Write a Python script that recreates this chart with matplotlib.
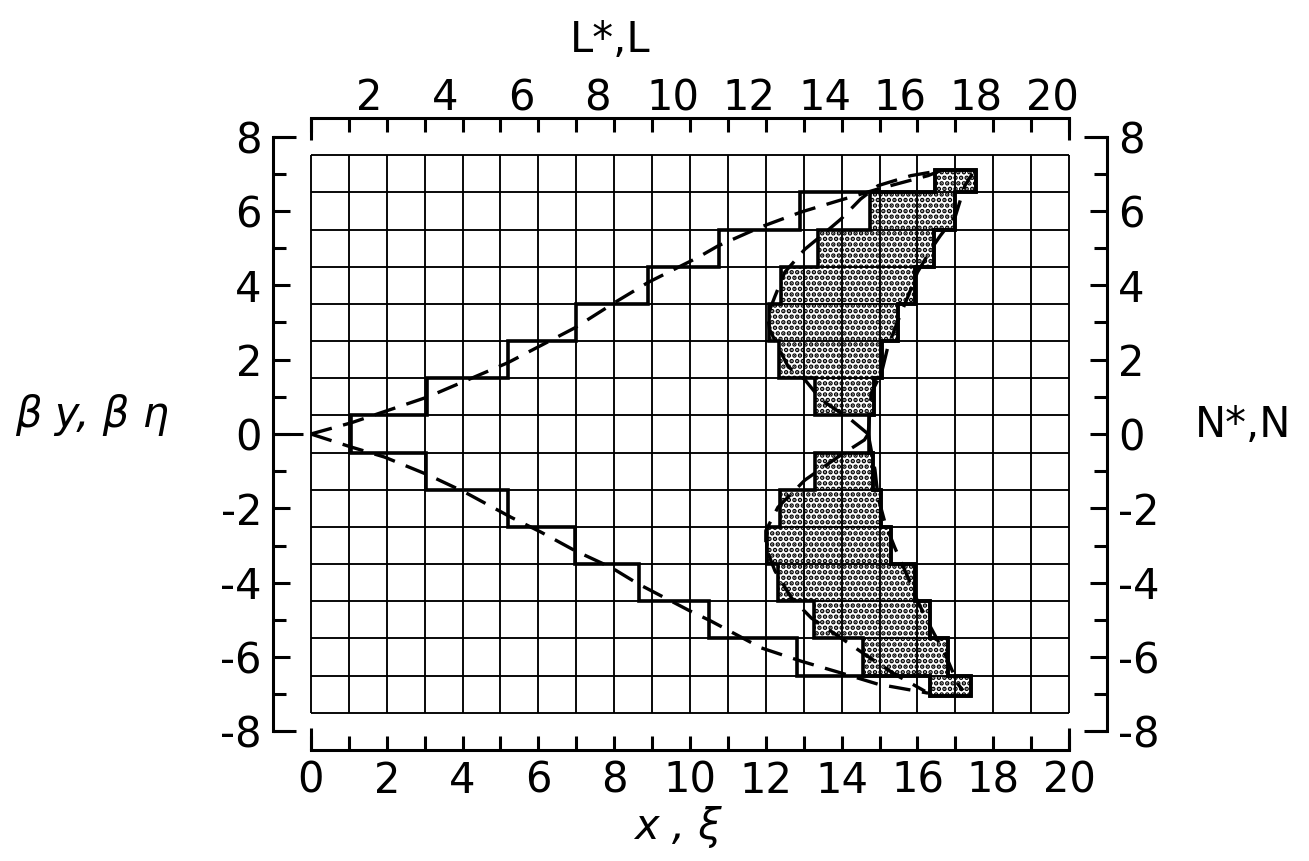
import numpy as np
import matplotlib
matplotlib.use("Agg")
import matplotlib.pyplot as plt
from matplotlib.patches import Polygon

# ---- strips: one per grid row (lower / upper edge in beta*y) ----
strip_lo = [6.5, 5.5, 4.5, 3.5, 2.5, 1.5, 0.5, -0.5, -1.5, -2.5, -3.5, -4.5, -5.5, -6.5, -7.05]
strip_hi = [7.1, 6.5, 5.5, 4.5, 3.5, 2.5, 1.5, 0.5, -0.5, -1.5, -2.5, -3.5, -4.5, -5.5, -6.5]
# left end of the open strip, left end of the stippled core, common right end
strip_left = [16.45, 12.9, 10.76, 8.9, 7.0, 5.2, 3.05, 1.05, 3.03, 5.2, 6.97, 8.65, 10.5, 12.82, 16.33]
core_left = [16.45, 14.75, 13.38, 12.4, 12.08, 12.35, 13.3, np.nan, 13.3, 12.37, 12.03, 12.32, 13.27, 14.57, 16.33]
strip_right = [17.55, 17.0, 16.44, 15.94, 15.49, 15.07, 14.86, 14.72, 14.83, 15.04, 15.3, 15.94, 16.33, 16.8, 17.41]

# ---- dashed boundary curves ----
outer_up_x = [0.0, 1.06, 3.09, 5.2, 6.97, 8.02, 8.9, 10.21, 10.74, 11.87, 12.93, 13.9, 14.96, 16.28, 16.6]
outer_up_y = [0.0, 0.3, 1.0, 1.92, 2.86, 3.54, 4.08, 4.75, 5.06, 5.57, 5.97, 6.27, 6.59, 6.95, 7.08]
outer_dn_x = [0.0, 1.06, 1.94, 3.09, 4.05, 5.28, 6.07, 6.97, 7.92, 8.63, 10.0, 10.55, 11.87, 12.93, 14.09, 14.96, 16.28]
outer_dn_y = [0.0, -0.35, -0.62, -1.1, -1.56, -2.24, -2.64, -3.14, -3.59, -4.03, -4.76, -5.03, -5.75, -6.11, -6.46, -6.73, -6.97]
inner_ul_x = [14.7, 14.25, 13.46, 13.03, 12.59, 12.32, 12.1, 12.05, 12.24, 12.5, 13.03, 13.46, 13.98, 14.5, 14.96, 15.83, 16.4]
inner_ul_y = [0.0, 0.38, 0.92, 1.46, 1.81, 2.35, 2.81, 3.2, 3.7, 4.35, 4.97, 5.33, 5.78, 6.32, 6.68, 6.95, 7.05]
inner_ur_x = [14.7, 14.78, 15.05, 15.22, 15.5, 15.75, 16.0, 16.36, 16.6, 17.0, 17.25, 17.45]
inner_ur_y = [0.0, 1.1, 1.64, 2.35, 3.08, 3.7, 4.35, 4.97, 5.33, 5.86, 6.68, 7.0]
inner_ll_x = [14.7, 14.6, 13.9, 13.03, 12.32, 12.0, 12.0, 12.24, 12.67, 13.2, 13.83, 14.6, 15.4, 16.2]
inner_ll_y = [0.0, -0.16, -0.62, -1.24, -1.97, -2.6, -3.05, -3.68, -4.4, -4.95, -5.38, -5.92, -6.46, -6.92]
inner_lr_x = [14.7, 14.88, 14.96, 15.15, 15.4, 15.75, 16.0, 16.36, 16.73, 17.07, 17.2]
inner_lr_y = [0.0, -0.97, -1.7, -2.41, -3.05, -3.86, -4.49, -5.22, -5.92, -6.73, -6.9]

# ---- axis ticks ----
x_ticks = list(range(0, 21, 2))
x_minor = list(range(1, 20, 2))
y_ticks = list(range(-8, 9, 2))
y_minor = list(range(-7, 8, 2))
top_ticks = list(range(2, 21, 2))
grid_x = list(range(0, 21))
grid_y = list(np.arange(-7.5, 7.6, 1.0))

plt.rcParams["hatch.linewidth"] = 2.3

W, H = 1309, 861
fig = plt.figure(figsize=(W / 100, H / 100), dpi=100)
ax = fig.add_axes([273 / W, 1 - 750 / H, 834 / W, 632 / H])
ax.set_xlim(-1, 21)
ax.set_ylim(-8.5, 8.5)

LW_GRID = 1.35
LW_BOX = 2.6
LW_AX = 2.2


def staircase(rows, lefts):
    """Outline of a stack of strips: down the left ends, back up the right ends."""
    pts = []
    for i in rows:
        pts += [(lefts[i], strip_hi[i]), (lefts[i], strip_lo[i])]
    for i in reversed(rows):
        pts += [(strip_right[i], strip_lo[i]), (strip_right[i], strip_hi[i])]
    return pts


# background grid
ax.vlines(grid_x, grid_y[0], grid_y[-1], color="black", lw=LW_GRID, zorder=1)
ax.hlines(grid_y, grid_x[0], grid_x[-1], color="black", lw=LW_GRID, zorder=1)

# whole stack of strips
all_rows = list(range(len(strip_lo)))
ax.add_patch(Polygon(staircase(all_rows, strip_left), closed=True, fill=False,
                     ec="black", lw=LW_BOX, joinstyle="miter", zorder=3))

# stippled cores (upper and lower halves)
core_rows = [i for i in all_rows if not np.isnan(core_left[i])]
upper = [i for i in core_rows if strip_lo[i] >= 0]
lower = [i for i in core_rows if strip_hi[i] <= 0]
for rows in (upper, lower):
    ax.add_patch(Polygon(staircase(rows, core_left), closed=True, facecolor="none",
                         ec="black", hatch="...", lw=LW_BOX, joinstyle="miter", zorder=3))

# dashed curves
for cx, cy in [(outer_up_x, outer_up_y), (outer_dn_x, outer_dn_y),
               (inner_ul_x, inner_ul_y), (inner_ur_x, inner_ur_y),
               (inner_ll_x, inner_ll_y), (inner_lr_x, inner_lr_y)]:
    ax.plot(cx, cy, color="black", lw=2.4, dashes=(6.5, 3.5), zorder=4)

# frame: four detached scales
ax.spines["left"].set_bounds(-8, 8)
ax.spines["right"].set_bounds(-8, 8)
ax.spines["top"].set_bounds(0, 20)
ax.spines["bottom"].set_bounds(0, 20)
for s in ax.spines.values():
    s.set_linewidth(LW_AX)

FS = 30
ax.set_xticks(x_ticks, labels=[str(v) for v in x_ticks])
ax.set_xticks(x_minor, minor=True)
ax.set_yticks(y_ticks, labels=[str(v) for v in y_ticks])
ax.set_yticks(y_minor, minor=True)
ax.tick_params(which="both", direction="in", top=True, right=True,
               labeltop=False, labelright=True, width=LW_AX, labelsize=FS)
ax.tick_params(axis="x", which="both", length=10, pad=7)
ax.tick_params(axis="y", which="major", length=12)
ax.tick_params(axis="y", which="minor", length=9.5)
ax.tick_params(axis="y", which="both", pad=8)

# bracket ends of each scale
kw = dict(color="black", lw=LW_AX, clip_on=False, zorder=5, solid_capstyle="butt")
for yy in (-8, 8):
    ax.plot([-1, -0.4], [yy, yy], **kw)
    ax.plot([21, 20.4], [yy, yy], **kw)
ax.plot([-1, -0.2], [0, 0], **kw)
for xx in (0, 20):
    ax.plot([xx, xx], [-8.5, -7.9], **kw)
    ax.plot([xx, xx], [8.5, 7.9], **kw)

# upper scale (L*, L)
sec = ax.secondary_xaxis("top", functions=(lambda v: v + 0.45, lambda v: v - 0.45))
sec.set_xticks(top_ticks, labels=[str(v) for v in top_ticks])
sec.tick_params(length=0, pad=-1, labelsize=FS)
for s in sec.spines.values():
    s.set_visible(False)

# axis titles
fig.text(610 / W, 1 - 40 / H, "L*,L", fontsize=FS, ha="center", va="center")
fig.text(1243 / W, 1 - 425 / H, "N*,N", fontsize=FS, ha="center", va="center")
fig.text(92 / W, 1 - 415 / H, "β y, β η", fontsize=FS, ha="center", va="center",
         style="italic")
fig.text(678 / W, 1 - 827 / H, "x , ξ", fontsize=FS, ha="center", va="center",
         style="italic")

fig.savefig("out.png", dpi=100, facecolor="white")
